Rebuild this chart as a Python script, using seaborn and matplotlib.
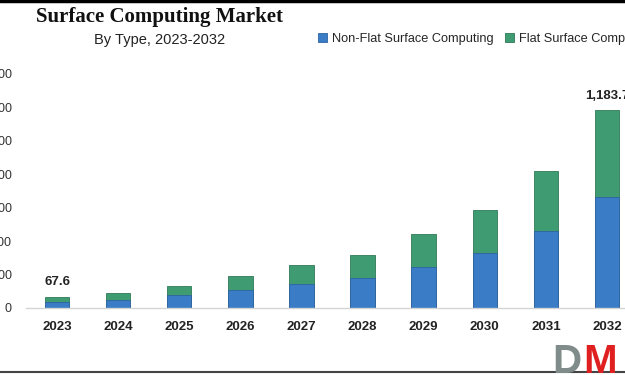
import matplotlib
matplotlib.use("Agg")
import matplotlib.pyplot as plt
import seaborn as sns
import pandas as pd
from matplotlib.lines import Line2D

years = ["2023", "2024", "2025", "2026", "2027", "2028", "2029", "2030", "2031", "2032"]
non_flat = [37, 48, 78, 107, 143, 177, 247, 332, 460, 665]
flat = [30.6, 40, 55, 82, 112, 143, 193, 257, 360, 518.7]
total_labels = ["67.6", "", "", "", "", "", "", "", "", "1,183.7"]
y_ticks = [0, 200, 400, 600, 800, 1000, 1200, 1400]

df = pd.DataFrame({"year": years, "non_flat": non_flat, "flat": flat})
df["total"] = df["non_flat"] + df["flat"]

sns.set_theme(style="white")
plt.rcParams["font.family"] = ["Liberation Sans", "DejaVu Sans"]

fig = plt.figure(figsize=(6.25, 3.75), dpi=100)
ax = fig.add_axes([26.5 / 625, 67 / 375, 611 / 625, 234 / 375])

blue = "#3a7dc6"
green = "#3f9b72"

sns.barplot(data=df, x="year", y="total", color=green, width=0.4, ax=ax,
            label="Flat Surface Computing", saturation=1,
            edgecolor="#2f7a58", linewidth=0.6)
sns.barplot(data=df, x="year", y="non_flat", color=blue, width=0.4, ax=ax,
            label="Non-Flat Surface Computing", saturation=1,
            edgecolor="#2d63a0", linewidth=0.6)

ax.bar_label(ax.containers[0], labels=total_labels, padding=6,
             fontsize=9.5, fontweight="bold", color="#222222", clip_on=False)

ax.set_xlim(-0.5, 9.5)
ax.set_ylim(0, 1400)
ax.set_yticks(y_ticks)
ax.set_yticklabels([str(v) for v in y_ticks])
ax.set_xlabel("")
ax.set_ylabel("")
for s in ["top", "right", "left"]:
    ax.spines[s].set_visible(False)
ax.spines["bottom"].set_color("#d4d4d4")
ax.spines["bottom"].set_linewidth(1.0)
ax.tick_params(axis="y", length=0, pad=10.5, labelsize=9, labelcolor="#333333")
ax.tick_params(axis="x", length=0, pad=9, labelsize=9.5, labelcolor="#222222")
for t in ax.get_xticklabels():
    t.set_fontweight("bold")

if ax.legend_:
    ax.legend_.remove()
h, l = ax.get_legend_handles_labels()
order = [1, 0]
fig.legend([h[i] for i in order], [l[i] for i in order], loc="center left",
           bbox_to_anchor=(313 / 625, 1 - 39 / 375), ncol=2, frameon=False,
           fontsize=9.2, handlelength=0.7, handleheight=0.7, handletextpad=0.4,
           columnspacing=0.9, borderaxespad=0)

fig.text(160 / 625, 1 - 17 / 375, "Surface Computing Market", ha="center", va="center",
         fontsize=15, fontweight="bold", family=["Liberation Serif"], color="#111111")
fig.text(160 / 625, 1 - 40 / 375, "By Type, 2023-2032", ha="center", va="center",
         fontsize=10.5, color="#222222")

# logo
fig.text(552 / 625, -6 / 375, "D", ha="left", va="bottom", fontsize=29,
         fontweight="bold", color="#7f8c8a")
fig.text(583 / 625, -6 / 375, "M", ha="left", va="bottom", fontsize=29,
         fontweight="bold", color="#e02020")

# frame lines
fig.add_artist(Line2D([0, 1], [1 - 1 / 375, 1 - 1 / 375], transform=fig.transFigure,
                      color="black", linewidth=2.5))
fig.add_artist(Line2D([0, 1], [3 / 375, 3 / 375], transform=fig.transFigure,
                      color="#444444", linewidth=1.5))

fig.savefig("out.png", dpi=100)
